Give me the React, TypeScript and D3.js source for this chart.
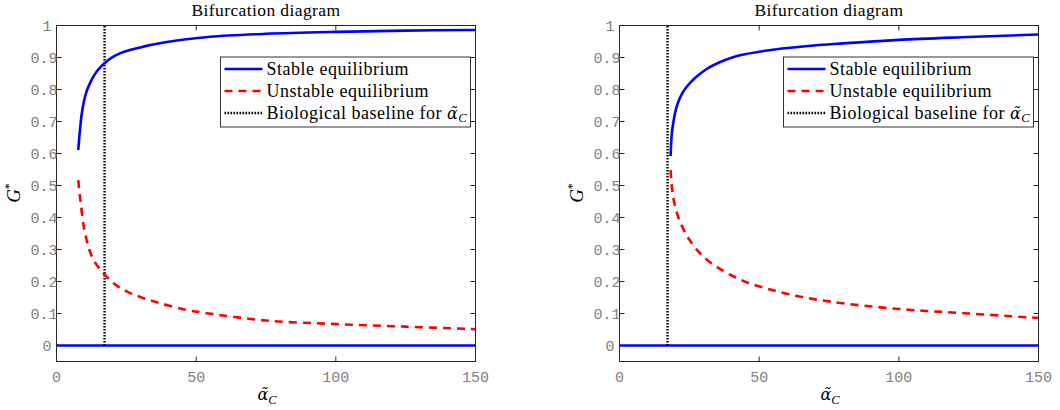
import React from 'react';
import * as d3 from 'd3';

const W = 1060;
const H = 410;

const xTicks = [0, 50, 100, 150];
const xTickLabels = ['0', '50', '100', '150'];
const yTicks = [0, 0.1, 0.2, 0.3, 0.4, 0.5, 0.6, 0.7, 0.8, 0.9, 1];
const yTickLabels = ['0', '0.1', '0.2', '0.3', '0.4', '0.5', '0.6', '0.7', '0.8', '0.9', '1'];

const baselineAlpha = 17.2;

// Left panel
const leftStableAlpha = [7.8, 8.1, 8.4, 9.0, 9.8, 10.8, 12.0, 13.2, 14.8, 16.8, 19.5, 22.7, 26.5, 31.1, 36.5, 43.1, 55.0, 75, 100, 125, 150];
const leftStableG = [0.611, 0.645, 0.673, 0.722, 0.762, 0.795, 0.82, 0.84, 0.861, 0.879, 0.898, 0.913, 0.924, 0.934, 0.944, 0.953, 0.965, 0.974, 0.98, 0.984, 0.986];
const leftUnstableAlpha = [7.8, 8.2, 8.7, 9.6, 10.5, 11.4, 12.5, 13.8, 15.2, 16.8, 20.3, 25.1, 31.1, 37.1, 46.6, 53.8, 75, 100, 125, 150];
const leftUnstableG = [0.517, 0.48, 0.444, 0.38, 0.34, 0.309, 0.282, 0.26, 0.242, 0.226, 0.195, 0.169, 0.148, 0.132, 0.111, 0.101, 0.078, 0.067, 0.059, 0.051];

// Right panel
const rightStableAlpha = [18.3, 18.5, 18.8, 19.4, 20.2, 21.2, 22.6, 24.2, 26.2, 28.3, 31.2, 34.3, 38.3, 42.7, 52.2, 66.5, 80, 100, 125, 150];
const rightStableG = [0.592, 0.635, 0.668, 0.704, 0.738, 0.765, 0.79, 0.81, 0.829, 0.845, 0.864, 0.879, 0.894, 0.906, 0.921, 0.935, 0.944, 0.955, 0.964, 0.972];
const rightUnstableAlpha = [18.3, 18.6, 19.0, 19.7, 20.6, 22.0, 23.6, 25.3, 27.2, 29.2, 31.4, 35.5, 40.3, 45.7, 51.1, 61.8, 75.5, 100, 123.3, 150];
const rightUnstableG = [0.548, 0.51, 0.476, 0.442, 0.413, 0.38, 0.351, 0.327, 0.304, 0.285, 0.267, 0.242, 0.218, 0.197, 0.182, 0.158, 0.137, 0.114, 0.101, 0.086];

const trivialAlpha = [0, 150];
const trivialG = [0, 0];

const legendLabels = ['Stable equilibrium', 'Unstable equilibrium', 'Biological baseline for '];

const SERIF = '"Liberation Serif", "DejaVu Serif", serif';
const MONO = '"Liberation Mono", "DejaVu Sans Mono", monospace';

const BLUE = '#0000ff';
const RED = '#ff0000';

function AlphaC() {
  // alpha with combining tilde, subscript C
  return (
    <>
      <tspan fontFamily='"DejaVu Serif", serif' fontStyle="italic" fontSize={16}>
        {'\u03B1\u0303'}
      </tspan>
      <tspan dx={0} dy={3.5} fontSize={12.5} fontStyle="italic">
        C
      </tspan>
    </>
  );
}

type PanelProps = {
  x0: number;
  x1: number;
  stableA: number[];
  stableG: number[];
  unstableA: number[];
  unstableG: number[];
};

function Panel({ x0, x1, stableA, stableG, unstableA, unstableG }: PanelProps) {
  const yTop = 25.5;
  const yBot = 361.5;
  const x = d3.scaleLinear().domain([0, 150]).range([x0, x1]);
  const y = d3.scaleLinear().domain([-0.05, 1]).range([yBot, yTop]);
  const line = d3
    .line<[number, number]>()
    .x((d) => x(d[0]))
    .y((d) => y(d[1]))
    .curve(d3.curveCatmullRom.alpha(0.5));
  const zip = (a: number[], g: number[]) => a.map((v, i) => [v, g[i]] as [number, number]);

  const cx = (x0 + x1) / 2;
  const tickLen = 5;
  const legX = x1 - 255;
  const legY = 57;
  const rowY = [69, 91, 113];

  return (
    <g>
      {/* data */}
      <path d={line(zip(trivialAlpha, trivialG)) || ''} fill="none" stroke={BLUE} strokeWidth={2.5} />
      <path
        d={line(zip([baselineAlpha, baselineAlpha], [0, 1])) || ''}
        fill="none"
        stroke="#000"
        strokeWidth={2.4}
        strokeDasharray="1.6,1.4"
      />
      <path d={line(zip(stableA, stableG)) || ''} fill="none" stroke={BLUE} strokeWidth={2.6} />
      <path
        d={line(zip(unstableA, unstableG)) || ''}
        fill="none"
        stroke={RED}
        strokeWidth={2.6}
        strokeDasharray="8,6"
      />

      {/* axes box */}
      <rect x={x0} y={yTop} width={x1 - x0} height={yBot - yTop} fill="none" stroke="#262626" strokeWidth={1} />
      {xTicks.map((t, i) => (
        <g key={'xt' + i}>
          <line x1={x(t)} x2={x(t)} y1={yBot} y2={yBot - tickLen} stroke="#262626" />
          <line x1={x(t)} x2={x(t)} y1={yTop} y2={yTop + tickLen} stroke="#262626" />
          <text x={x(t)} y={381.5} textAnchor="middle" fontFamily={MONO} fontSize={15} fill="#808080">
            {xTickLabels[i]}
          </text>
        </g>
      ))}
      {yTicks.map((t, i) => (
        <g key={'yt' + i}>
          <line x1={x0} x2={x0 + tickLen} y1={y(t)} y2={y(t)} stroke="#262626" />
          <line x1={x1} x2={x1 - tickLen} y1={y(t)} y2={y(t)} stroke="#262626" />
          <text
            x={x0 - 8 - 6 * yTickLabels[i].length}
            y={y(t) + 5}
            textAnchor="start"
            fontFamily={MONO}
            fontSize={15}
            fill="#808080"
          >
            {yTickLabels[i]}
          </text>
        </g>
      ))}

      {/* title */}
      <text x={cx} y={16} textAnchor="middle" fontFamily={SERIF} fontSize={17.5} letterSpacing={0.4} fill="#000">
        Bifurcation diagram
      </text>

      {/* x label */}
      <text x={cx + 1} y={400} textAnchor="middle" fontFamily={SERIF} fontSize={18} fill="#000">
        <AlphaC />
      </text>

      {/* y label */}
      <text
        transform={`translate(${x0 - 36.5},193) rotate(-90)`}
        textAnchor="middle"
        fontFamily={SERIF}
        fontSize={19}
        fontStyle="italic"
        fill="#000"
      >
        G
        <tspan fontSize={12} dy={-7} fontStyle="normal">
          *
        </tspan>
      </text>

      {/* legend */}
      <rect x={legX} y={legY} width={250} height={70} fill="#fff" stroke="#333" strokeWidth={1} />
      <line x1={legX + 4} x2={legX + 42} y1={rowY[0]} y2={rowY[0]} stroke={BLUE} strokeWidth={2.6} />
      <line
        x1={legX + 4}
        x2={legX + 42}
        y1={rowY[1]}
        y2={rowY[1]}
        stroke={RED}
        strokeWidth={2.6}
        strokeDasharray="8,6"
      />
      <line
        x1={legX + 4}
        x2={legX + 42}
        y1={rowY[2]}
        y2={rowY[2]}
        stroke="#000"
        strokeWidth={2.4}
        strokeDasharray="1.6,1.4"
      />
      {legendLabels.map((l, i) => (
        <text
          key={'lg' + i}
          x={legX + 46}
          y={rowY[i] + 5.5}
          fontFamily={SERIF}
          fontSize={18}
          letterSpacing={0.5}
          fill="#000"
        >
          {l}
          {i === 2 ? <AlphaC /> : null}
        </text>
      ))}
    </g>
  );
}

export default function App() {
  return (
    <svg
      width={W}
      height={H}
      viewBox={`0 0 ${W} ${H}`}
      style={{ position: 'absolute', left: 0, top: 0, background: '#fff' }}
    >
      <rect x={0} y={0} width={W} height={H} fill="#fff" />
      <Panel
        x0={56.5}
        x1={475.5}
        stableA={leftStableAlpha}
        stableG={leftStableG}
        unstableA={leftUnstableAlpha}
        unstableG={leftUnstableG}
      />
      <Panel
        x0={619.5}
        x1={1038.5}
        stableA={rightStableAlpha}
        stableG={rightStableG}
        unstableA={rightUnstableAlpha}
        unstableG={rightUnstableG}
      />
    </svg>
  );
}
